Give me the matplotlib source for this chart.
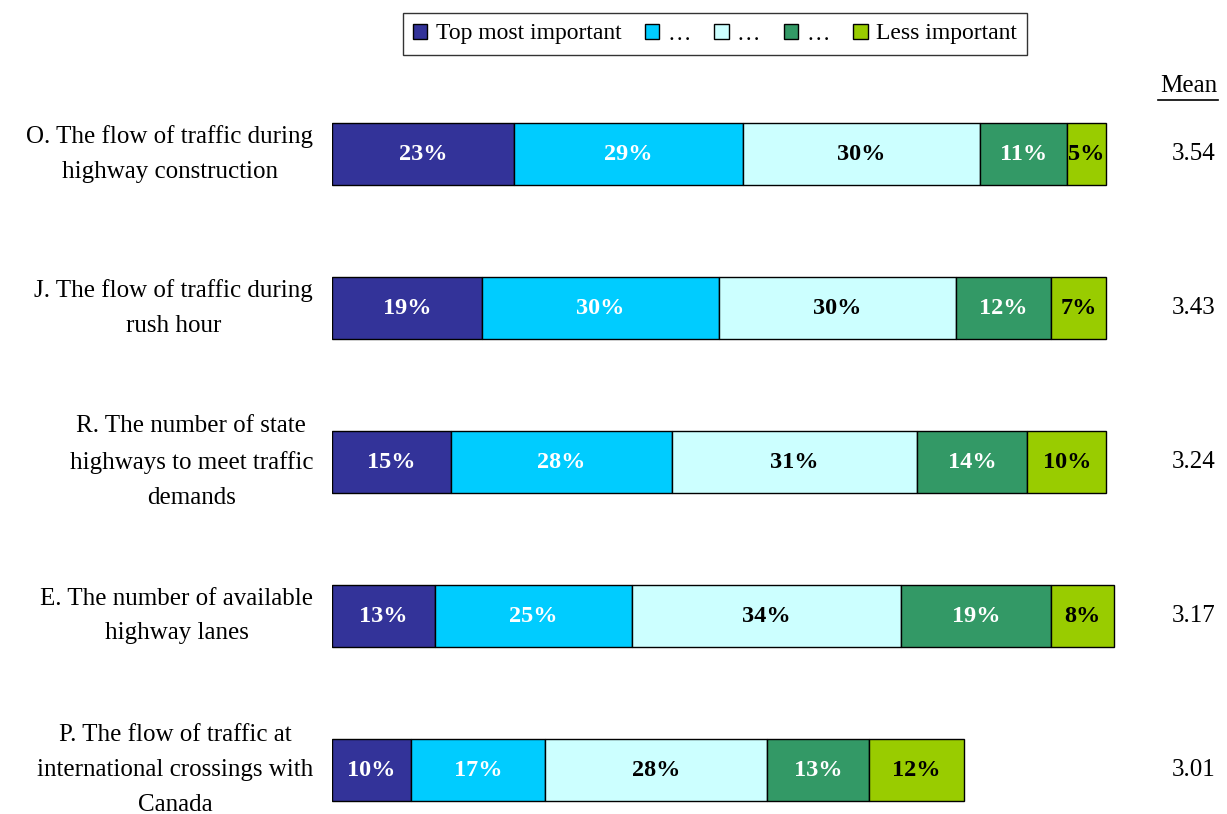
import numpy as np
import matplotlib.pyplot as plt
from matplotlib.patches import Patch

plt.rcParams['font.family'] = ['Liberation Serif', 'DejaVu Serif']

# data
categories = [
    "O. The flow of traffic during\nhighway construction",
    "J. The flow of traffic during\nrush hour",
    "R. The number of state\nhighways to meet traffic\ndemands",
    "E. The number of available\nhighway lanes",
    "P. The flow of traffic at\ninternational crossings with\nCanada",
]
series_names = ["Top most important", "\u2026", "\u2026", "\u2026", "Less important"]
top_most = [23, 19, 15, 13, 10]
second = [29, 30, 28, 25, 17]
third = [30, 30, 31, 34, 28]
fourth = [11, 12, 14, 19, 13]
less = [5, 7, 10, 8, 12]
means = ["3.54", "3.43", "3.24", "3.17", "3.01"]

series = [top_most, second, third, fourth, less]
colors = ['#333399', '#00CCFF', '#CCFFFF', '#339966', '#99CC00']
text_colors = ['white', 'white', 'black', 'white', 'black']

W, H = 1227, 814
fig = plt.figure(figsize=(W / 100, H / 100), dpi=100)
ax = fig.add_axes([332 / W, 0, (1122 - 332) / W, 1 - 77 / H])

y = np.arange(len(categories))
left = np.zeros(len(categories))
for vals, col, tcol in zip(series, colors, text_colors):
    vals = np.array(vals)
    ax.barh(y, vals, left=left, height=0.40, color=col, edgecolor='black', linewidth=1)
    for yi, l, v in zip(y, left, vals):
        ax.text(l + v / 2, yi, f"{v}%", ha='center', va='center', color=tcol,
                fontsize=17.5, fontweight='bold')
    left += vals

ax.set_xlim(0, 100)
ax.set_ylim(4 + (H - 770) / 154, -0.5)
ax.axis('off')

for yi, cat in zip(y, categories):
    ax.text(-2.4, yi, cat, ha='right', va='center', multialignment='center',
            fontsize=18, linespacing=1.75)

for yi, m in zip(y, means):
    ax.text(109.1, yi, m, ha='center', va='center', fontsize=18, clip_on=False)

ax.text(108.5, -0.44, "Mean", ha='center', va='center', fontsize=18, clip_on=False)
fig.add_artist(plt.Line2D([1158 / W, 1218 / W], [1 - 100 / H, 1 - 100 / H],
                          color='black', linewidth=1.2))

handles = [Patch(facecolor=c, edgecolor='black', linewidth=1) for c in colors]
leg = fig.legend(handles, series_names, loc='center', bbox_to_anchor=(715 / W, 1 - 34 / H),
                 ncol=5, frameon=True, fancybox=False, edgecolor='black', fontsize=17,
                 handlelength=0.6, handleheight=0.6, handletextpad=0.35, columnspacing=1.0,
                 borderpad=0.45)
leg.get_frame().set_linewidth(1)

fig.savefig('out.png', dpi=100)
